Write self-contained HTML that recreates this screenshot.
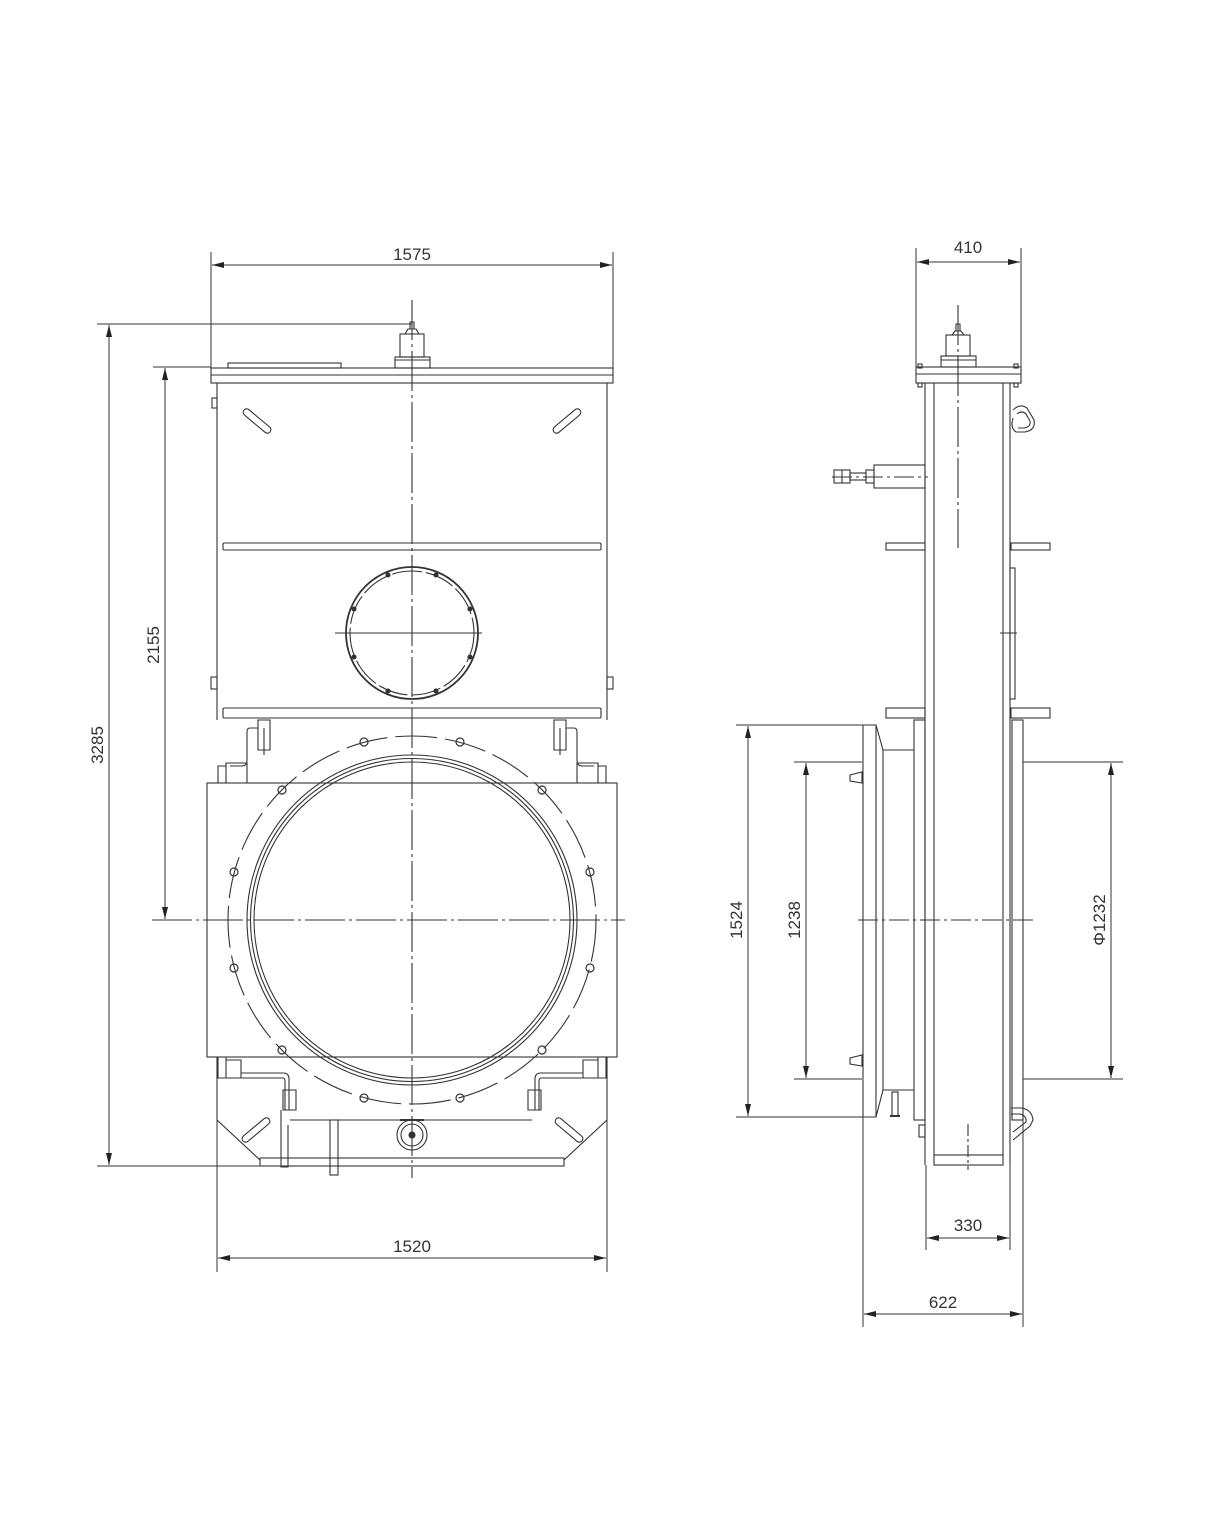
<!DOCTYPE html>
<html><head><meta charset="utf-8"><style>
html,body{margin:0;padding:0;background:#fff;}
svg{display:block;}
text{font-family:"Liberation Sans",sans-serif;font-size:17px;fill:#333;}
</style></head><body>
<svg width="1228" height="1516" viewBox="0 0 1228 1516" xmlns="http://www.w3.org/2000/svg">
<defs>
<marker id="a" viewBox="0 0 12 6" refX="12" refY="3" markerWidth="12" markerHeight="6" orient="auto-start-reverse" markerUnits="userSpaceOnUse"><path d="M0,0 L12,3 L0,6 z" fill="#222"/></marker>
</defs>
<g fill="none" stroke="#333" stroke-width="1.1">
<!-- ===== FRONT VIEW ===== -->
<!-- top plate -->
<rect x="211" y="368" width="402" height="15"/>
<line x1="211" y1="375" x2="613" y2="375"/>
<rect x="228" y="363" width="113" height="5"/>
<!-- actuator -->
<rect x="395" y="357" width="35" height="11"/>
<line x1="395" y1="360" x2="430" y2="360"/>
<rect x="400" y="334" width="24" height="23"/>
<path d="M405,334 L408,329 L416,329 L419,334 M410,329 V322 H414 V329"/>
<!-- upper box -->
<path d="M217,383 V720 M607,383 V720"/>
<rect x="212" y="398" width="5" height="10"/>
<rect x="211" y="677" width="6" height="12"/>
<rect x="607" y="677" width="6" height="12"/>
<!-- slots -->
<g transform="translate(257,421) rotate(40)"><rect x="-17" y="-3.5" width="34" height="7" rx="3.5"/></g>
<g transform="translate(567,421) rotate(-40)"><rect x="-17" y="-3.5" width="34" height="7" rx="3.5"/></g>
<rect x="223" y="543" width="378" height="7" rx="1.5"/>
<rect x="223" y="708" width="378" height="10" rx="1.5"/>
<!-- port circle -->
<circle cx="412" cy="633" r="66" stroke-width="1.8"/>
<circle cx="412" cy="633" r="62" stroke-dasharray="30 4"/>
<line x1="335" y1="633" x2="482" y2="633"/>
<g fill="#333"><circle cx="470" cy="609" r="2"/><circle cx="470" cy="657" r="2"/><circle cx="354" cy="609" r="2"/><circle cx="354" cy="657" r="2"/><circle cx="388" cy="575" r="2"/><circle cx="436" cy="575" r="2"/><circle cx="388" cy="691" r="2"/><circle cx="436" cy="691" r="2"/></g>
<!-- brackets top -->
<path d="M258,720 H270 V750 H258 Z M258,728 H250 Q247,728 247,732 V760 Q247,766 242,766 H230 M264,728 V755"/>
<path d="M226,763 H247 V783 H226 Z M218,766 H226 V783 H218 Z"/>
<path d="M566,720 H554 V750 H566 Z M566,728 H574 Q577,728 577,732 V760 Q577,766 582,766 H594 M560,728 V755"/>
<path d="M598,763 H577 V783 H598 Z M606,766 H598 V783 H606 Z"/>
<!-- lower body -->
<rect x="207" y="783" width="410" height="274"/>
<circle cx="412" cy="920" r="165"/>
<circle cx="412" cy="920" r="161.5"/>
<circle cx="412" cy="920" r="158"/>
<circle cx="412" cy="920" r="184" stroke-dasharray="42 8"/>
<line x1="152" y1="920" x2="625" y2="920" stroke-dasharray="40 4 3 4"/>
<!-- bolts -->
<g stroke-width="1.2">
<circle cx="590" cy="872" r="4"/><circle cx="542" cy="790" r="4"/><circle cx="460" cy="742" r="4"/><circle cx="364" cy="742" r="4"/><circle cx="282" cy="790" r="4"/><circle cx="234" cy="872" r="4"/><circle cx="234" cy="968" r="4"/><circle cx="282" cy="1050" r="4"/><circle cx="364" cy="1098" r="4"/><circle cx="460" cy="1098" r="4"/><circle cx="542" cy="1050" r="4"/><circle cx="590" cy="968" r="4"/>
</g>
<!-- lower brackets -->
<path d="M218,1057 H226 V1078 H218 Z M226,1060 H241 V1078 H226 Z M241,1073 H283 Q289,1073 289,1079 V1110 M241,1078 H283 Q285,1078 285,1082 V1110"/>
<path d="M283,1090 H296 V1110 H283 Z"/>
<path d="M606,1057 H598 V1078 H606 Z M598,1060 H583 V1078 H598 Z M583,1073 H541 Q535,1073 535,1079 V1110 M583,1078 H541 Q539,1078 539,1082 V1110"/>
<path d="M541,1090 H528 V1110 H541 Z"/>
<!-- bottom trapezoid -->
<path d="M217,1057 V1120 L260,1160 M607,1057 V1120 L564,1160"/>
<line x1="290" y1="1120" x2="532" y2="1120"/>
<rect x="260" y="1158" width="304" height="8"/>
<path d="M281,1110 V1167 H288 V1125"/>
<rect x="330" y="1120" width="8" height="55"/>
<circle cx="412" cy="1135" r="15"/><circle cx="412" cy="1135" r="11"/><circle cx="412" cy="1135" r="3" fill="#333"/>
<line x1="400" y1="1120" x2="424" y2="1120" stroke-width="2"/>
<g transform="translate(256,1130) rotate(-40)"><rect x="-17" y="-3.5" width="34" height="7" rx="3.5"/></g>
<g transform="translate(569,1130) rotate(40)"><rect x="-17" y="-3.5" width="34" height="7" rx="3.5"/></g>
<!-- centerline vertical -->
<line x1="412" y1="300" x2="412" y2="1178" stroke-dasharray="40 4 3 4"/>

<!-- ===== SIDE VIEW ===== -->
<rect x="916" y="367" width="105" height="16"/>
<line x1="916" y1="374" x2="1021" y2="374"/>
<rect x="918" y="364" width="4" height="4"/><rect x="1014" y="364" width="4" height="4"/>
<rect x="918" y="383" width="4" height="4"/><rect x="1014" y="383" width="4" height="4"/>
<rect x="941" y="356" width="35" height="11"/>
<line x1="941" y1="360" x2="976" y2="360"/>
<rect x="946" y="335" width="24" height="21"/>
<path d="M952,335 L955,331 L961,331 L964,335 M956,331 V324 H960 V331"/>
<path d="M925,383 V1165 M1010,383 V1165 M934,383 V1155 M1003,383 V1155"/>
<rect x="934" y="1155" width="69" height="10"/>
<!-- side cylinder -->
<rect x="874" y="465" width="51" height="23"/>
<rect x="866" y="470" width="8" height="13"/>
<rect x="850" y="473" width="16" height="7"/>
<rect x="834" y="470" width="16" height="13"/>
<line x1="842" y1="470" x2="842" y2="483"/>
<line x1="832" y1="477" x2="928" y2="477" stroke-dasharray="20 4 3 4"/>
<!-- shackle -->
<path d="M1013,410 Q1020,403 1027,408 L1034,420 Q1036,430 1025,432 L1016,432 Q1010,428 1013,418"/>
<path d="M1017,414 Q1022,410 1026,414 L1030,421 Q1031,427 1024,428 L1018,428"/>
<!-- rings -->
<rect x="886" y="543" width="39" height="7"/><rect x="1011" y="543" width="39" height="7"/>
<rect x="886" y="708" width="39" height="10"/><rect x="1011" y="708" width="39" height="10"/>
<rect x="1010" y="568" width="5" height="131"/>
<line x1="1000" y1="633" x2="1017" y2="633"/>
<!-- lower flange -->
<path d="M863,725 H876 L883,750 H914 M863,725 V1117 H876 L883,1090 H914 M876,725 V1117 M883,750 V1090"/>
<rect x="914" y="720" width="11" height="400"/>
<rect x="1012" y="720" width="11" height="400"/>
<path d="M850,775 L862,772 V783 L850,781 Z"/>
<path d="M850,1058 L862,1055 V1066 L850,1064 Z"/>
<rect x="892" y="1092" width="6" height="24"/>
<line x1="890" y1="1116" x2="900" y2="1116" stroke-width="2"/>
<rect x="919" y="1125" width="6" height="12"/>
<path d="M1011,1108 L1022,1108 Q1032,1110 1033,1120 L1030,1126 L1013,1140 M1011,1114 L1020,1114 Q1027,1116 1026,1122 L1013,1132"/>
<!-- side centerlines -->
<line x1="858" y1="920" x2="1035" y2="920" stroke-dasharray="20 4 3 4"/>
<line x1="958" y1="305" x2="958" y2="548" stroke-dasharray="40 4 3 4"/>
<line x1="968" y1="1124" x2="968" y2="1170" stroke-dasharray="12 3 3 3"/>

<!-- ===== DIMENSIONS ===== -->
<g stroke="#333" stroke-width="1">
<!-- 1575 -->
<line x1="211" y1="252" x2="211" y2="368"/><line x1="613" y1="252" x2="613" y2="368"/>
<line x1="212" y1="265" x2="612" y2="265" marker-start="url(#a)" marker-end="url(#a)"/>
<!-- 3285 -->
<line x1="97" y1="324" x2="412" y2="324"/><line x1="97" y1="1166" x2="262" y2="1166"/>
<line x1="109" y1="325" x2="109" y2="1165" marker-start="url(#a)" marker-end="url(#a)"/>
<!-- 2155 -->
<line x1="153" y1="367" x2="211" y2="367"/>
<line x1="165" y1="368" x2="165" y2="919" marker-start="url(#a)" marker-end="url(#a)"/>
<!-- 1520 -->
<line x1="217" y1="1120" x2="217" y2="1272"/><line x1="607" y1="1120" x2="607" y2="1272"/>
<line x1="218" y1="1258" x2="606" y2="1258" marker-start="url(#a)" marker-end="url(#a)"/>
<!-- 410 -->
<line x1="916" y1="248" x2="916" y2="367"/><line x1="1021" y1="248" x2="1021" y2="367"/>
<line x1="917" y1="262" x2="1020" y2="262" marker-start="url(#a)" marker-end="url(#a)"/>
<!-- 1524 -->
<line x1="736" y1="725" x2="863" y2="725"/><line x1="736" y1="1117" x2="863" y2="1117"/>
<line x1="748" y1="726" x2="748" y2="1116" marker-start="url(#a)" marker-end="url(#a)"/>
<!-- 1238 -->
<line x1="794" y1="762" x2="862" y2="762"/><line x1="794" y1="1079" x2="862" y2="1079"/>
<line x1="806" y1="763" x2="806" y2="1078" marker-start="url(#a)" marker-end="url(#a)"/>
<!-- 1232 -->
<line x1="1023" y1="762" x2="1123" y2="762"/><line x1="1023" y1="1079" x2="1123" y2="1079"/>
<line x1="1111" y1="763" x2="1111" y2="1078" marker-start="url(#a)" marker-end="url(#a)"/>
<!-- 330 -->
<line x1="926" y1="1165" x2="926" y2="1250"/><line x1="1010" y1="1165" x2="1010" y2="1250"/>
<line x1="927" y1="1238" x2="1009" y2="1238" marker-start="url(#a)" marker-end="url(#a)"/>
<!-- 622 -->
<line x1="863" y1="1117" x2="863" y2="1327"/><line x1="1023" y1="1120" x2="1023" y2="1327"/>
<line x1="864" y1="1314" x2="1022" y2="1314" marker-start="url(#a)" marker-end="url(#a)"/>
</g>
</g>
<g>
<text x="412" y="260" text-anchor="middle">1575</text>
<text x="412" y="1252" text-anchor="middle">1520</text>
<text x="968" y="253" text-anchor="middle">410</text>
<text x="968" y="1231" text-anchor="middle">330</text>
<text x="943" y="1308" text-anchor="middle">622</text>
<text transform="translate(103,745) rotate(-90)" text-anchor="middle">3285</text>
<text transform="translate(159,645) rotate(-90)" text-anchor="middle">2155</text>
<text transform="translate(742,920) rotate(-90)" text-anchor="middle">1524</text>
<text transform="translate(800,920) rotate(-90)" text-anchor="middle">1238</text>
<text transform="translate(1105,920) rotate(-90)" text-anchor="middle">Φ1232</text>
</g>
</svg>
</body></html>
